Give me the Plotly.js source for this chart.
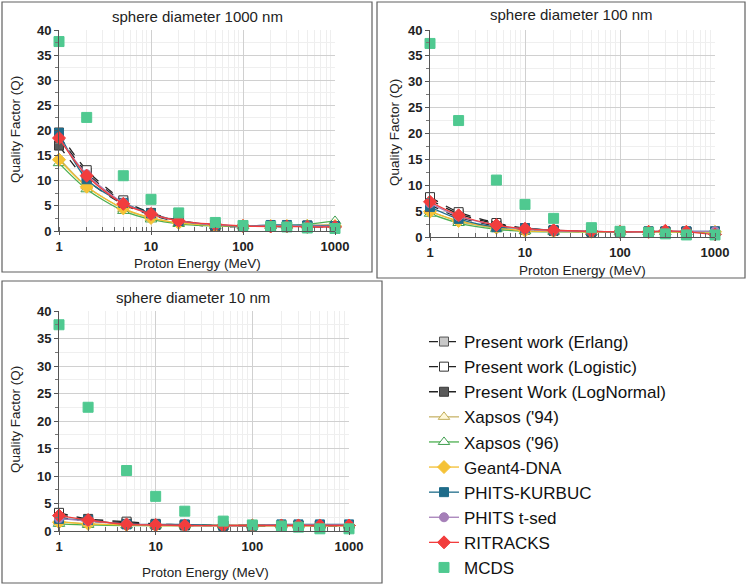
<!DOCTYPE html>
<html>
<head>
<meta charset="utf-8">
<script src="https://cdn.plot.ly/plotly-3.0.1.min.js"></script>
<style>html,body{margin:0;padding:0;background:#fff;}#chart{width:749px;height:585px;}</style>
</head>
<body>
<div id="chart"></div>
<script>
// Proton energies (MeV)
var energy = [1, 2, 5, 10, 20, 50, 100, 200, 300, 500, 1000];

// Panel titles
var panelTitles = ['sphere diameter 1000 nm', 'sphere diameter 100 nm', 'sphere diameter 10 nm'];
var xTickVals = [1, 10, 100, 1000];
var xTickText = ['1', '10', '100', '1000'];
var yTickVals = [0, 5, 10, 15, 20, 25, 30, 35, 40];

// Series names
var seriesNames = ['Present work (Erlang)', 'Present work (Logistic)', 'Present Work (LogNormal)',
  "Xapsos ('94)", "Xapsos ('96)", 'Geant4-DNA', 'PHITS-KURBUC', 'PHITS t-sed', 'RITRACKS', 'MCDS'];

// sphere diameter 1000 nm
var erlang1000    = [19.0, 11.6, 5.8, 3.5, 2.0, 1.1, 1.0, 0.9, 0.9, 0.9, 0.8];
var logistic1000  = [19.6, 12.1, 6.1, 3.6, 2.1, 1.2, 1.0, 0.9, 0.9, 0.9, 0.8];
var lognormal1000 = [17.0, 10.2, 5.3, 3.2, 1.8, 0.8, 0.9, 0.9, 0.9, 1.1, 0.8];
var xapsos94_1000 = [14.5, 8.9, 4.4, 2.6, 1.6, 1.1, 1.0, 1.0, 1.0, 1.1, 1.3];
var xapsos96_1000 = [13.5, 8.3, 4.0, 2.3, 1.4, 1.0, 1.0, 1.0, 1.1, 1.3, 2.0];
var geant1000     = [14.2, 8.8, 4.5, 2.6, 1.6, 1.1, 1.0, 1.0, 1.0, 1.0, 1.0];
var kurbuc1000    = [19.5, 10.3, 5.6, 3.5, 2.0, 1.2, 1.0, 1.2, 1.2, 1.1, 1.0];
var tsed1000      = [18.5, 11.3, 5.6, 3.3, 2.0, 1.2, 1.0, 1.0, 1.0, 1.0, 0.9];
var ritracks1000  = [18.5, 11.0, 5.4, 3.4, 2.0, 1.3, 1.0, 0.9, 0.9, 0.8, 0.8];
var mcds1000      = [37.7, 22.6, 11.0, 6.3, 3.6, 1.7, 1.1, 0.9, 0.8, 0.6, 0.5];

// sphere diameter 100 nm
var erlang100     = [7.2, 4.5, 2.5, 1.6, 1.3, 1.1, 1.0, 1.0, 1.0, 1.0, 1.0];
var logistic100   = [7.7, 4.8, 2.7, 1.7, 1.3, 1.1, 1.0, 1.0, 1.0, 1.0, 1.0];
var lognormal100  = [6.2, 3.8, 2.1, 1.4, 1.2, 1.0, 1.0, 1.0, 1.0, 1.0, 1.0];
var xapsos94_100  = [5.0, 3.0, 1.7, 1.2, 1.1, 1.0, 1.0, 1.0, 1.0, 1.0, 1.0];
var xapsos96_100  = [4.5, 2.7, 1.5, 1.1, 1.0, 1.0, 1.0, 1.0, 1.0, 1.0, 1.0];
var geant100      = [4.9, 3.1, 1.8, 1.2, 1.1, 1.0, 1.0, 1.0, 1.0, 1.0, 1.0];
var kurbuc100     = [5.8, 3.5, 1.9, 1.7, 1.3, 1.1, 1.0, 1.1, 1.1, 1.1, 1.1];
var tsed100       = [6.5, 4.0, 2.3, 1.5, 1.2, 1.1, 1.0, 1.0, 1.1, 1.1, 1.1];
var ritracks100   = [6.8, 4.2, 2.3, 1.6, 1.3, 1.1, 1.0, 1.0, 1.2, 1.0, 0.5];
var mcds100       = [37.4, 22.5, 11.0, 6.3, 3.6, 1.8, 1.1, 0.9, 0.6, 0.4, 0.4];

// sphere diameter 10 nm
var erlang10      = [3.0, 2.0, 1.5, 1.2, 1.1, 1.0, 1.0, 1.0, 1.0, 1.0, 1.0];
var logistic10    = [3.3, 2.2, 1.7, 1.3, 1.1, 1.0, 1.0, 1.0, 1.0, 1.0, 1.0];
var lognormal10   = [2.5, 1.8, 1.3, 1.1, 1.0, 1.0, 1.0, 1.0, 1.0, 1.0, 1.0];
var xapsos94_10   = [1.7, 1.3, 1.1, 1.0, 1.0, 1.0, 1.0, 1.0, 1.0, 1.0, 1.0];
var xapsos96_10   = [1.3, 1.1, 1.0, 1.0, 1.0, 1.0, 1.0, 1.0, 1.0, 1.0, 1.0];
var geant10       = [1.6, 1.3, 1.1, 1.0, 1.0, 1.0, 1.0, 1.0, 1.0, 1.0, 1.0];
var kurbuc10      = [2.2, 2.0, 1.2, 1.2, 1.2, 1.0, 1.0, 1.2, 1.2, 1.2, 1.2];
var tsed10        = [2.3, 1.8, 1.3, 1.1, 1.0, 1.0, 1.0, 1.1, 1.1, 1.1, 1.1];
var ritracks10    = [2.8, 2.0, 1.2, 1.1, 1.0, 1.0, 1.0, 1.0, 1.0, 1.0, 1.0];
var mcds10        = [37.5, 22.5, 11.0, 6.3, 3.6, 1.8, 1.1, 0.9, 0.7, 0.4, 0.4];

var panels = [
  [erlang1000, logistic1000, lognormal1000, xapsos94_1000, xapsos96_1000, geant1000, kurbuc1000, tsed1000, ritracks1000, mcds1000],
  [erlang100, logistic100, lognormal100, xapsos94_100, xapsos96_100, geant100, kurbuc100, tsed100, ritracks100, mcds100],
  [erlang10, logistic10, lognormal10, xapsos94_10, xapsos96_10, geant10, kurbuc10, tsed10, ritracks10, mcds10]
];

var styles = [
  {sym: 'square', fill: '#c8c8c8', edge: '#555555', lc: '#222222', dash: 'dash', size: 9},
  {sym: 'square', fill: '#ffffff', edge: '#333333', lc: '#222222', dash: 'dash', size: 9},
  {sym: 'square', fill: '#5a5a5a', edge: '#3a3a3a', lc: '#222222', dash: 'dash', size: 9},
  {sym: 'triangle-up', fill: '#fff8d8', edge: '#c2ae5a', lc: '#c8b46a', dash: 'solid', size: 10},
  {sym: 'triangle-up', fill: '#ffffff', edge: '#3f9e4f', lc: '#4caf50', dash: 'solid', size: 10},
  {sym: 'diamond', fill: '#f5c236', edge: '#f5c236', lc: '#f2be30', dash: 'solid', size: 10},
  {sym: 'square', fill: '#1f6c8a', edge: '#1f6c8a', lc: '#1f6c8a', dash: 'solid', size: 9},
  {sym: 'circle', fill: '#a57fb8', edge: '#a57fb8', lc: '#a57fb8', dash: 'solid', size: 9},
  {sym: 'diamond', fill: '#f23d3d', edge: '#f23d3d', lc: '#f23d3d', dash: 'solid', size: 10},
  {sym: 'square', fill: '#4fc990', edge: '#4fc990', lc: '#4fc990', dash: 'solid', size: 10}
];

var W = 749, H = 585;
function px(x) { return x / W; }
function py(y) { return (H - y) / H; }

// plot areas in page pixels: [left, right, top, bottom]
var boxes = [
  [59, 335, 30, 231],
  [430, 715, 30, 237],
  [59, 349, 311, 531]
];
var frames = [
  [2, 372, 2, 272],
  [377, 745, 2, 278],
  [2, 382, 281, 583]
];

var traces = [];
for (var p = 0; p < 3; p++) {
  var xa = p === 0 ? 'x' : 'x' + (p + 1);
  var ya = p === 0 ? 'y' : 'y' + (p + 1);
  for (var s = 0; s < seriesNames.length; s++) {
    var st = styles[s];
    var isMcds = s === 9;
    traces.push({
      type: 'scatter',
      x: energy,
      y: panels[p][s],
      xaxis: xa, yaxis: ya,
      name: seriesNames[s],
      legendgroup: 'g' + s,
      showlegend: p === 0,
      mode: isMcds ? 'markers' : 'lines+markers',
      cliponaxis: false,
      line: {color: st.lc, width: 1.3, dash: st.dash, shape: 'spline', smoothing: 0.8},
      marker: {symbol: st.sym, size: st.size, color: st.fill, line: {color: st.edge, width: 1}}
    });
  }
}

var layout = {
  width: W, height: H,
  margin: {l: 0, r: 0, t: 0, b: 0},
  paper_bgcolor: '#ffffff',
  plot_bgcolor: '#ffffff',
  font: {family: 'Liberation Sans, Arial, sans-serif', color: '#222'},
  showlegend: true,
  legend: {
    x: px(424), y: 0, xanchor: 'left', yanchor: 'bottom',
    font: {size: 17, color: '#111', family: 'Liberation Sans, Arial, sans-serif'},
    tracegroupgap: 0,
    bgcolor: 'rgba(0,0,0,0)'
  },
  shapes: [],
  annotations: []
};

var titlePos = [[197, 16], [571, 14], [193, 297]];
var xTitlePos = [[197, 263], [582, 270], [205, 572]];
var yTitlePos = [[15, 130], [395, 133], [15, 420]];

for (var p = 0; p < 3; p++) {
  var b = boxes[p];
  var xk = p === 0 ? 'xaxis' : 'xaxis' + (p + 1);
  var yk = p === 0 ? 'yaxis' : 'yaxis' + (p + 1);
  var yAnchor = p === 0 ? 'y' : 'y' + (p + 1);
  var xAnchor = p === 0 ? 'x' : 'x' + (p + 1);
  layout[xk] = {
    type: 'log', range: [0, 3], domain: [px(b[0]), px(b[1])], anchor: yAnchor,
    tickvals: xTickVals, ticktext: xTickText,
    tickfont: {size: 13, family: 'Liberation Sans, Arial, sans-serif', weight: 'bold', color: '#222'},
    showline: true, linecolor: '#555', linewidth: 1,
    showgrid: true, gridcolor: '#d0d0d0', gridwidth: 1,
    ticks: 'outside', ticklen: 3, tickcolor: '#555',
    zeroline: false,
    minor: {dtick: 'D1', showgrid: true, gridcolor: '#eeeeee', ticks: 'inside', ticklen: 4, tickcolor: '#666'}
  };
  layout[yk] = {
    range: [0, 40], domain: [py(b[3]), py(b[2])], anchor: xAnchor,
    tickvals: yTickVals,
    tickfont: {size: 13, family: 'Liberation Sans, Arial, sans-serif', weight: 'bold', color: '#222'},
    showline: true, linecolor: '#555', linewidth: 1,
    showgrid: true, gridcolor: '#d0d0d0', gridwidth: 1,
    ticks: 'outside', ticklen: 4, tickcolor: '#555',
    zeroline: false,
    minor: {dtick: 2.5, showgrid: true, gridcolor: '#efefef', ticks: 'outside', ticklen: 3, tickcolor: '#777'}
  };
  var f = frames[p];
  layout.shapes.push({type: 'rect', xref: 'paper', yref: 'paper',
    x0: px(f[0]), x1: px(f[1]), y0: py(f[3]), y1: py(f[2]),
    line: {color: '#606060', width: 1.2}, fillcolor: 'rgba(0,0,0,0)', layer: 'below'});
  layout.annotations.push({text: panelTitles[p], xref: 'paper', yref: 'paper',
    x: px(titlePos[p][0]), y: py(titlePos[p][1]), xanchor: 'center', yanchor: 'middle',
    showarrow: false, font: {size: 15, color: '#222'}});
  layout.annotations.push({text: 'Proton Energy (MeV)', xref: 'paper', yref: 'paper',
    x: px(xTitlePos[p][0]), y: py(xTitlePos[p][1]), xanchor: 'center', yanchor: 'middle',
    showarrow: false, font: {size: 13.5, color: '#222'}});
  layout.annotations.push({text: 'Quality Factor (Q)', xref: 'paper', yref: 'paper',
    x: px(yTitlePos[p][0]), y: py(yTitlePos[p][1]), xanchor: 'center', yanchor: 'middle',
    textangle: -90, showarrow: false, font: {size: 13.5, color: '#222'}});
}

Plotly.newPlot('chart', traces, layout, {displayModeBar: false, staticPlot: true});
</script>
</body>
</html>
